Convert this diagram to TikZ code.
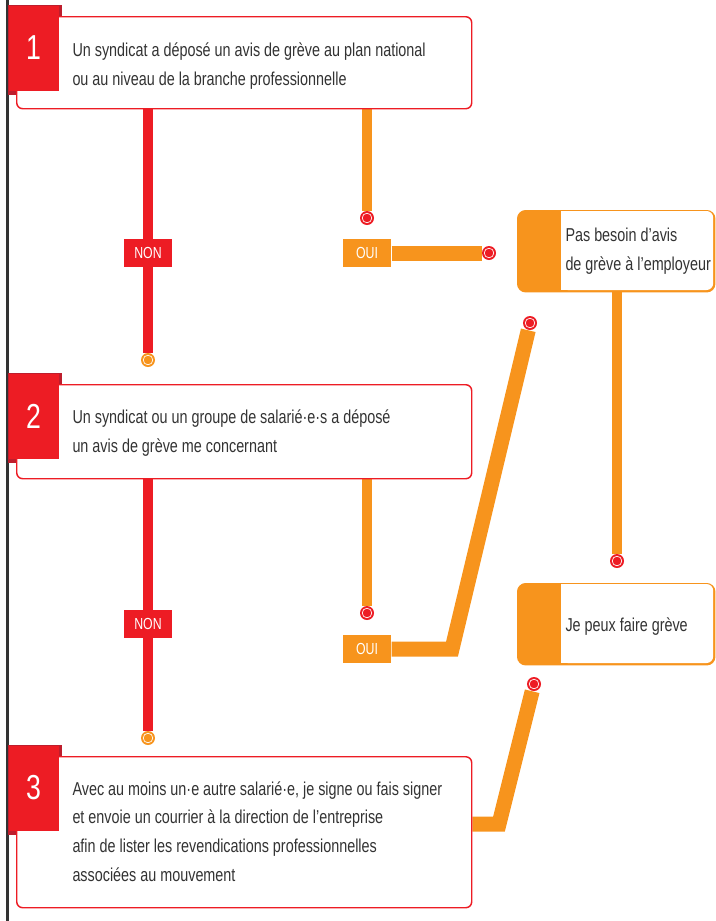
\documentclass[tikz,border=0pt]{standalone}
\usepackage{fontspec}
\setmainfont{Liberation Sans}[FakeStretch=0.77]
\usetikzlibrary{backgrounds}

\definecolor{nred}{HTML}{ED1C24}
\definecolor{norange}{HTML}{F7941D}
\definecolor{nshadow}{HTML}{BE1E2D}
\definecolor{ntext}{HTML}{333333}

\tikzset{every picture/.style={line width=0.75pt},
	qbox/.style={draw=nred, line width=1.1pt, fill=white, rounded corners=4.5pt, anchor=north west, inner sep=0pt, minimum width=455*0.75pt},
	numbox/.style={fill=nred, text=white, anchor=north west, inner sep=0pt, minimum width=50*0.75pt, minimum height=85*0.75pt, font=\fontsize{26}{26}\selectfont},
	abox/.style={draw=norange, line width=1.1pt, fill=norange, rounded corners=6pt, anchor=north west, inner sep=0pt, minimum width=197*0.75pt, minimum height=81*0.75pt},
	qtext/.style={anchor=base west, align=left, inner sep=0pt, text=ntext, font=\fontsize{14}{21.4}\selectfont},
	nonlabel/.style={fill=nred, text=white, inner sep=0pt, minimum width=48*0.75pt, minimum height=28*0.75pt, font=\fontsize{12}{12}\selectfont},
	ouilabel/.style={nonlabel, fill=norange},
	nonline/.style={draw=nred, line width=7.5pt},
	ouiline/.style={draw=norange, line width=7.5pt},
	ouibar/.style={draw=norange, line width=11.25pt},
	reddot/.style={circle, fill=nred, inner sep=0pt, minimum size=10.5pt, path picture={\draw[white, line width=0.5pt] (path picture bounding box.center) circle (3.6pt);}},
	orangedot/.style={reddot, fill=norange}
}

\begin{document}
\begin{tikzpicture}[x=0.75pt,y=0.75pt,yscale=-1,xscale=1]
		\useasboundingbox (0,0) rectangle (716,921);
		
		%questions (text placed by the baseline of its last line)
		\fill[nshadow] (8,5) rectangle (62,95);
		\node[qbox, minimum height=92*0.75pt] (q1) at (16,16) {};
		\node[numbox] (n1) at (8,5) {1};
		\node[qtext] (t1) at (72,85.5) {Un syndicat a déposé un avis de grève au plan national\\ou au niveau de la branche professionnelle};
		
		\fill[nshadow] (8,373) rectangle (62,463);
		\node[qbox, minimum height=94*0.75pt] (q2) at (16,384) {};
		\node[numbox] (n2) at (8,373) {2};
		\node[qtext] (t2) at (72,452.5) {Un syndicat ou un groupe de salarié·e·s a déposé\\un avis de grève me concernant};
		
		\fill[nshadow] (8,745) rectangle (62,835);
		\node[qbox, minimum height=151*0.75pt] (q3) at (16,756) {};
		\node[numbox] (n3) at (8,745) {3};
		\node[qtext] (t3) at (72,881) {Avec au moins un·e autre salarié·e, je signe ou fais signer\\et envoie un courrier à la direction de l’entreprise\\afin de lister les revendications professionnelles\\associées au mouvement};
		
		%answers
		\node[abox] (a1) at (517,210) {};
		\fill[white, rounded corners=5pt] (561,211) rectangle (713.2,290);
		\fill[white] (561,211) rectangle (590,290);
		\node[qtext] (ta1) at (565,270) {Pas besoin d’avis\\de grève à l’employeur};
		
		\node[abox] (a2) at (517,583) {};
		\fill[white, rounded corners=5pt] (561,584) rectangle (713.2,663);
		\fill[white] (561,584) rectangle (590,663);
		\node[qtext] (ta2) at (565,631) {Je peux faire grève};
		
		%labels and dots
		\node[nonlabel] (l1) at (148,253) {NON};
		\node[ouilabel] (o1) at (367,253) {OUI};
		\node[nonlabel] (l2) at (148,624) {NON};
		\node[ouilabel] (o2) at (367,649) {OUI};
		
		\node[orangedot] (d1) at (148,360) {};
		\node[reddot] (d2) at (367,218) {};
		\node[reddot] (d3) at (489,253) {};
		\node[reddot] (d4) at (530,323) {};
		\node[reddot] (d5) at (617,561) {};
		\node[orangedot] (d6) at (148,738) {};
		\node[reddot] (d7) at (367,613) {};
		\node[reddot] (d8) at (534,684) {};
		\coordinate (c1) at (452,649);
		\coordinate (c2) at (499,824);
		
		\begin{pgfonlayer}{background}
			\draw[ntext, line width=2.25pt] (7,0) -- (7,921);
			\draw[nonline] (q1.south -| d1) -- (d1);
			\draw[ouiline] (q1.south -| d2) -- (d2);
			\draw[ouibar] (o1.east) -- (d3);
			\draw[ouiline] (a1.south -| d5) -- (d5);
			\draw[nonline] (q2.south -| d6) -- (d6);
			\draw[ouiline] (q2.south -| d7) -- (d7);
			\draw[ouibar] (o2.east) -- (c1) -- (d4);
			\draw[ouibar] (q3.east |- c2) -- (c2) -- (d8);
		\end{pgfonlayer}
		
	\end{tikzpicture}
\end{document}
